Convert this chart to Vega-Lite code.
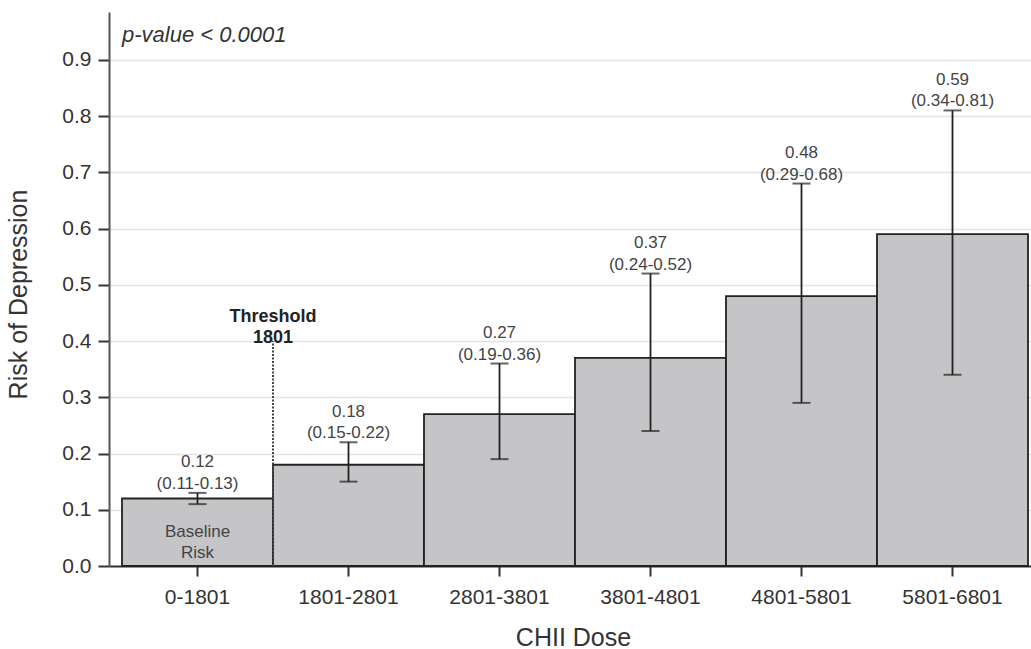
{
  "$schema": "https://vega.github.io/schema/vega-lite/v6.json",
  "autosize": {"type": "none"},
  "width": 922,
  "height": 554,
  "padding": {"left": 109, "top": 12, "right": 0, "bottom": 83},
  "background": "white",
  "config": {
    "font": "Liberation Sans",
    "view": {"stroke": null},
    "axis": {"labelFont": "Liberation Sans", "titleFont": "Liberation Sans", "titleFontWeight": "normal", "labelColor": "#333", "titleColor": "#333"}
  },
  "data": {"values": [
    {"cat": "0-1801", "est": 0.12, "lo": 0.11, "hi": 0.13, "ci": "(0.11-0.13)"},
    {"cat": "1801-2801", "est": 0.18, "lo": 0.15, "hi": 0.22, "ci": "(0.15-0.22)"},
    {"cat": "2801-3801", "est": 0.27, "lo": 0.19, "hi": 0.36, "ci": "(0.19-0.36)"},
    {"cat": "3801-4801", "est": 0.37, "lo": 0.24, "hi": 0.52, "ci": "(0.24-0.52)"},
    {"cat": "4801-5801", "est": 0.48, "lo": 0.29, "hi": 0.68, "ci": "(0.29-0.68)"},
    {"cat": "5801-6801", "est": 0.59, "lo": 0.34, "hi": 0.81, "ci": "(0.34-0.81)"}
  ]},
  "encoding": {
    "x": {"field": "cat", "type": "nominal", "sort": null,
      "scale": {"paddingInner": 0, "paddingOuter": 0.053, "align": 0.8125},
      "axis": {"title": "CHII Dose", "labelAngle": 0, "labelFontSize": 21, "labelPadding": 21, "labelBaseline": "middle",
        "domainColor": "#333", "domainWidth": 2, "tickColor": "#333", "tickSize": 10, "tickWidth": 2,
        "titleFontSize": 25, "titleX": 464, "titleY": 71, "titleBaseline": "middle", "titleAnchor": null}
    }
  },
  "layer": [
    {
      "mark": {"type": "bar", "fill": "#c5c4c7", "stroke": "#222", "strokeWidth": 1.8},
      "encoding": {
        "y": {"field": "est", "type": "quantitative",
          "scale": {"domain": [0, 0.985], "nice": false},
          "axis": {"title": "Risk of Depression", "values": [0, 0.1, 0.2, 0.3, 0.4, 0.5, 0.6, 0.7, 0.8, 0.9], "format": ".1f",
            "labelFontSize": 21, "labelPadding": 7, "domainColor": "#555", "domainWidth": 2, "tickColor": "#333", "tickSize": 11, "tickWidth": 2,
            "grid": true, "gridColor": "#e3e3e3", "gridWidth": 1.5,
            "titleFontSize": 25, "titleX": -91, "titleY": 282, "titleBaseline": "middle", "titleAngle": -90, "titleAnchor": null}
        }
      }
    },
    {
      "mark": {"type": "rule", "color": "#222", "strokeWidth": 1.8},
      "encoding": {"y": {"field": "lo", "type": "quantitative"}, "y2": {"field": "hi"}}
    },
    {
      "mark": {"type": "tick", "color": "#222", "thickness": 2, "size": 18},
      "encoding": {"y": {"field": "lo", "type": "quantitative"}}
    },
    {
      "mark": {"type": "tick", "color": "#222", "thickness": 2, "size": 18},
      "encoding": {"y": {"field": "hi", "type": "quantitative"}}
    },
    {
      "mark": {"type": "text", "fontSize": 17, "color": "#444", "baseline": "middle", "dy": -30.5},
      "encoding": {"y": {"field": "hi", "type": "quantitative"}, "text": {"field": "est", "type": "quantitative", "format": ".2f"}}
    },
    {
      "mark": {"type": "text", "fontSize": 17, "color": "#444", "baseline": "middle", "dy": -9},
      "encoding": {"y": {"field": "hi", "type": "quantitative"}, "text": {"field": "ci"}}
    },
    {
      "data": {"values": [{"label": "threshold"}]},
      "mark": {"type": "rule", "color": "#444", "strokeWidth": 2, "strokeDash": [2, 1.5]},
      "encoding": {
        "x": {"datum": "0-1801", "bandPosition": 1},
        "y": {"datum": 0},
        "y2": {"datum": 0.40}
      }
    },
    {
      "data": {"values": [{"label": "threshold"}]},
      "mark": {"type": "text", "fontSize": 18, "fontWeight": "bold", "color": "#222", "baseline": "middle", "lineHeight": 21, "text": ["Threshold", "1801"]},
      "encoding": {
        "x": {"datum": "0-1801", "bandPosition": 1},
        "y": {"datum": 0.442}
      }
    },
    {
      "data": {"values": [{"label": "baseline"}]},
      "mark": {"type": "text", "fontSize": 17, "color": "#444", "baseline": "middle", "lineHeight": 21, "text": ["Baseline", "Risk"]},
      "encoding": {
        "x": {"datum": "0-1801"},
        "y": {"datum": 0.061}
      }
    },
    {
      "data": {"values": [{"label": "pvalue"}]},
      "mark": {"type": "text", "fontSize": 22, "fontStyle": "italic", "color": "#333", "align": "left", "baseline": "middle", "text": "p-value < 0.0001"},
      "encoding": {
        "x": {"datum": "0-1801", "bandPosition": 0},
        "y": {"datum": 0.944}
      }
    }
  ]
}
